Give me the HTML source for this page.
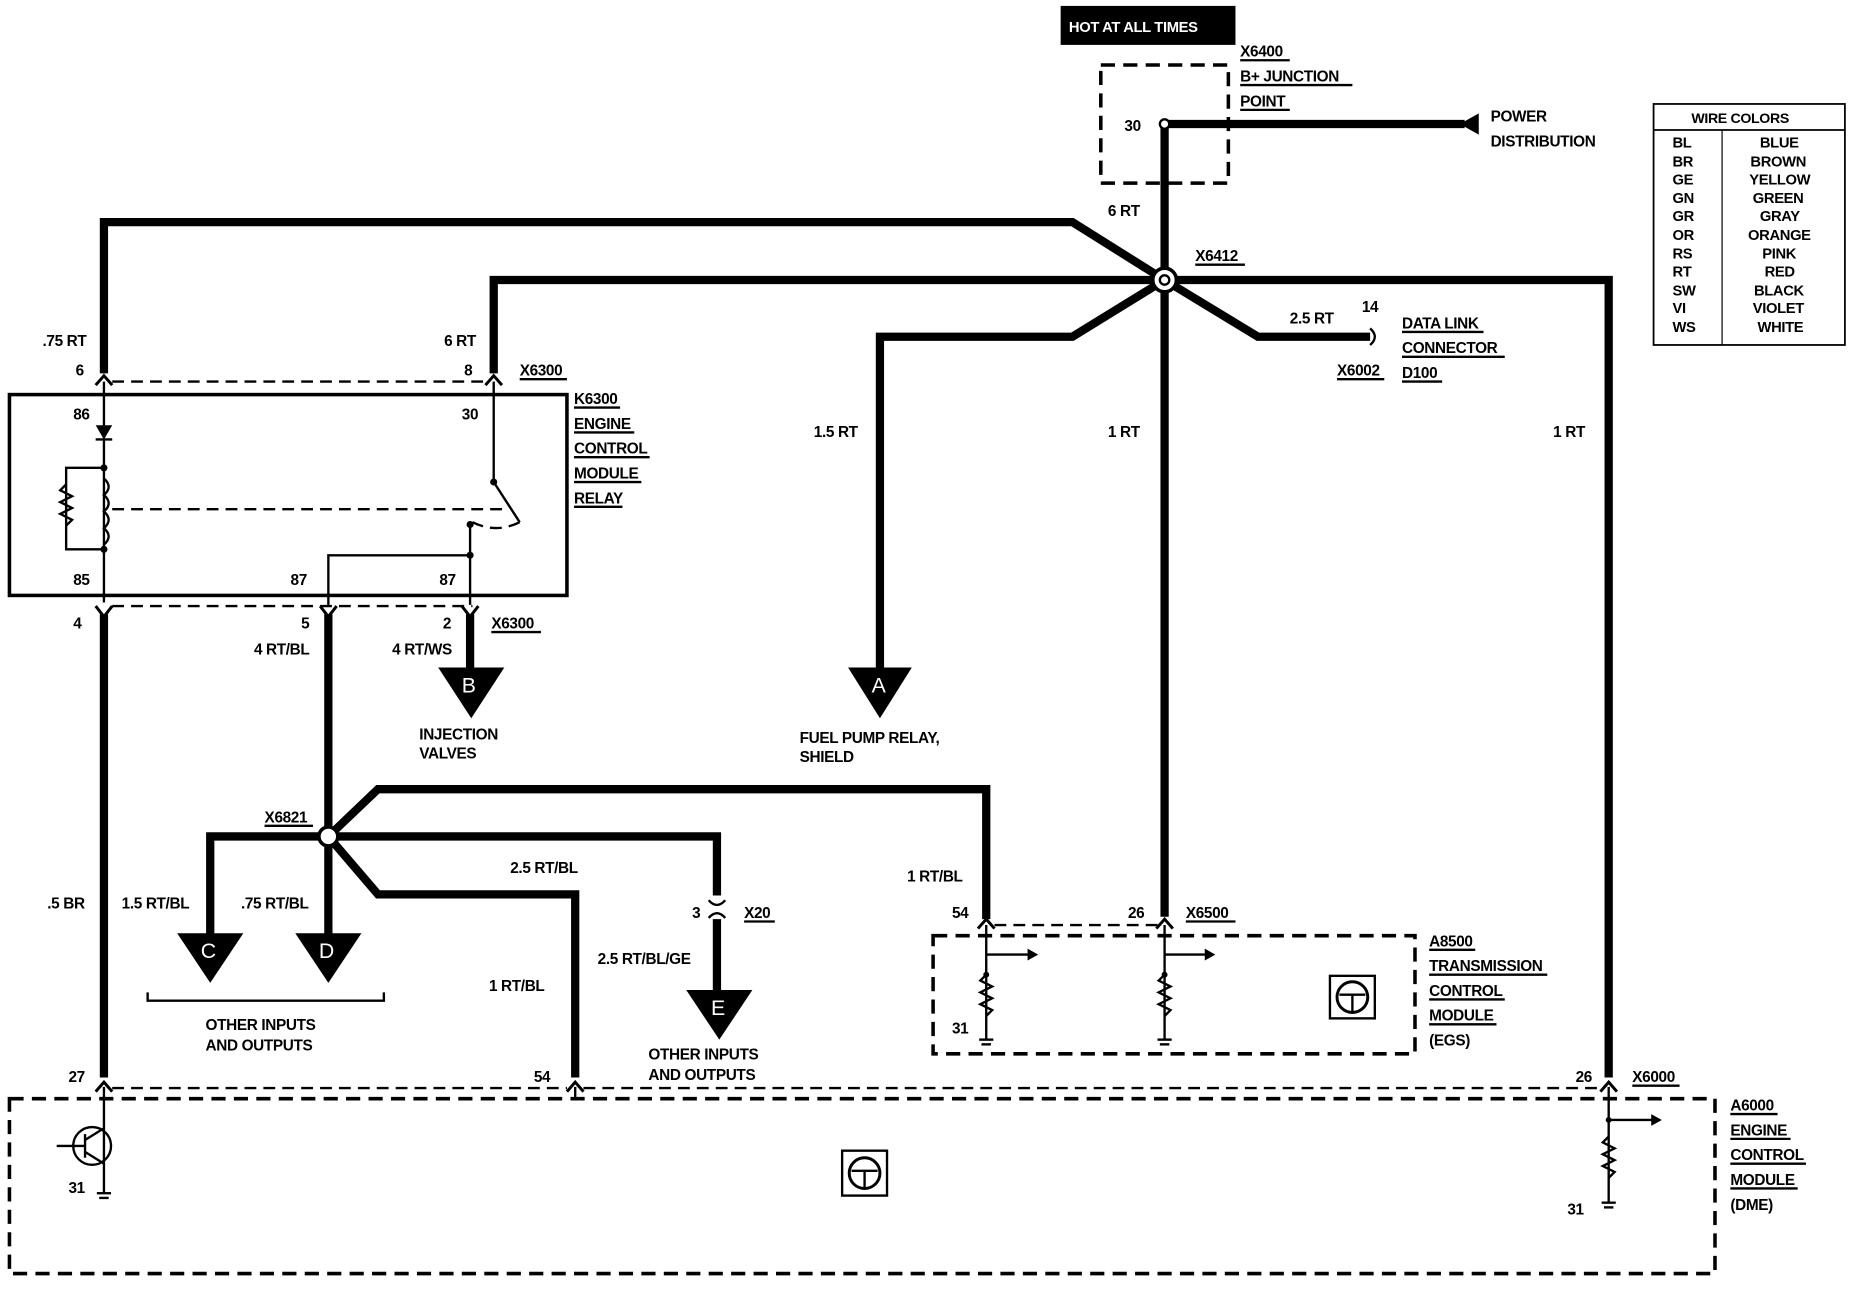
<!DOCTYPE html>
<html><head><meta charset="utf-8"><style>
html,body{margin:0;padding:0;background:#fff;}
svg{display:block;}
text{font-family:"Liberation Sans",Arial,sans-serif;font-size:13px;font-weight:bold;letter-spacing:-0.3px;fill:#000;}
.t{stroke:#000;stroke-width:7;fill:none;stroke-linejoin:miter;}
.d{stroke:#000;stroke-width:3;fill:none;stroke-dasharray:12,7;}
.dl{stroke:#000;stroke-width:2;fill:none;stroke-dasharray:10,6;}
.n{stroke:#000;stroke-width:2;fill:none;}
.f{stroke:#000;stroke-width:2.5;fill:none;}
</style></head><body>
<svg width="1852" height="1296" viewBox="0 0 1568 1097" preserveAspectRatio="none" xmlns="http://www.w3.org/2000/svg">
<rect x="0" y="0" width="1568" height="1097" fill="#fff"/>
<rect x="898" y="5" width="148" height="33" fill="#000"/>
<text x="905" y="27" style="fill:#fff;font-size:12.5px">HOT AT ALL TIMES</text>
<rect x="932" y="55" width="108" height="100" class="d"/>
<text x="952" y="111">30</text>
<text x="1050" y="48">X6400</text><line x1="1050" y1="51" x2="1092" y2="51" class="n" stroke-width="1"/>
<text x="1050" y="69">B+ JUNCTION</text><line x1="1050" y1="72" x2="1145" y2="72" class="n" stroke-width="1"/>
<text x="1050" y="90">POINT</text><line x1="1050" y1="93" x2="1092" y2="93" class="n" stroke-width="1"/>
<path class="t" d="M986 105 H1240"/>
<polygon points="1236,105 1252,96 1252,114" fill="#000"/>
<text x="1262" y="103">POWER</text><text x="1262" y="124">DISTRIBUTION</text>
<path class="t" d="M986 105 V776"/>
<circle cx="986" cy="105" r="4" fill="#fff" stroke="#000" stroke-width="2"/>
<text x="938" y="183">6 RT</text>
<text x="1012" y="221">X6412</text><line x1="1012" y1="224" x2="1054" y2="224" class="n" stroke-width="1"/>
<path class="t" d="M986 237 L908 188 H88 V316"/>
<path class="t" d="M986 237 H418 V316"/>
<path class="t" d="M986 237 H1362 V912"/>
<path class="t" d="M986 237 L908 285 H745 V570"/>
<path class="t" d="M986 237 L1065 285 H1160"/>
<path class="n" d="M1160 278 Q1168 285 1160 292" stroke-width="2"/>
<polygon points="718,565 772,565 745,608" fill="#000"/>
<text x="738" y="586" style="fill:#fff;font-size:18px;font-weight:normal">A</text>
<circle cx="986" cy="237" r="10" fill="#fff" stroke="#000" stroke-width="3"/>
<circle cx="986" cy="237" r="4" fill="#fff" stroke="#000" stroke-width="2"/>
<text x="1092" y="274">2.5 RT</text><text x="1153" y="264">14</text>
<text x="1132" y="318">X6002</text><line x1="1132" y1="321" x2="1172" y2="321" class="n" stroke-width="1"/>
<text x="1187" y="278">DATA LINK</text><line x1="1187" y1="281" x2="1256" y2="281" class="n" stroke-width="1"/>
<text x="1187" y="299">CONNECTOR</text><line x1="1187" y1="302" x2="1274" y2="302" class="n" stroke-width="1"/>
<text x="1187" y="320">D100</text><line x1="1187" y1="323" x2="1221" y2="323" class="n" stroke-width="1"/>
<text x="689" y="370">1.5 RT</text><text x="938" y="370">1 RT</text><text x="1315" y="370">1 RT</text>
<text x="677" y="629">FUEL PUMP RELAY,</text><text x="677" y="645">SHIELD</text>
<!-- K6300 -->
<text x="36" y="293">.75 RT</text><text x="376" y="293">6 RT</text>
<text x="64" y="318">6</text><text x="393" y="318">8</text>
<text x="440" y="318">X6300</text><line x1="440" y1="321" x2="480" y2="321" class="n" stroke-width="1"/>
<line x1="95" y1="323" x2="412" y2="323" class="dl"/>
<path class="f" d="M81 326 L88 318 L95 326"/><path class="f" d="M411 326 L418 318 L425 326"/>
<rect x="8" y="334" width="472" height="170" fill="none" stroke="#000" stroke-width="3"/>
<text x="486" y="342">K6300</text><line x1="486" y1="345" x2="525" y2="345" class="n" stroke-width="1"/>
<text x="486" y="363">ENGINE</text><line x1="486" y1="366" x2="537" y2="366" class="n" stroke-width="1"/>
<text x="486" y="384">CONTROL</text><line x1="486" y1="387" x2="550" y2="387" class="n" stroke-width="1"/>
<text x="486" y="405">MODULE</text><line x1="486" y1="408" x2="543" y2="408" class="n" stroke-width="1"/>
<text x="486" y="426">RELAY</text><line x1="486" y1="429" x2="527" y2="429" class="n" stroke-width="1"/>
<text x="62" y="355">86</text><text x="391" y="355">30</text>
<text x="62" y="495">85</text><text x="246" y="495">87</text><text x="372" y="495">87</text>
<path class="n" d="M88 323 V510"/>
<polygon points="81,360 95,360 88,372" fill="#000"/><line x1="81" y1="372" x2="95" y2="372" class="n"/>
<path class="n" d="M88 396 H56 V465 H88"/>
<path class="n" d="M56 410 l-5 5 l10 5 l-10 5 l10 5 l-10 5 l10 5 l-5 5"/>
<path class="n" d="M88 405 q8 7 0 14 q8 7 0 14 q8 7 0 14 q8 7 0 14"/>
<circle cx="88" cy="396" r="3" fill="#000"/><circle cx="88" cy="465" r="3" fill="#000"/>
<line x1="95" y1="431" x2="430" y2="431" class="dl"/>
<path class="n" d="M418 323 V408 L440 442"/>
<circle cx="418" cy="408" r="3" fill="#000"/>
<path class="dl" d="M440 442 Q420 452 400 442"/>
<circle cx="398" cy="444" r="3" fill="#000"/>
<path class="n" d="M398 444 V512"/>
<path class="n" d="M278 512 V470 H398"/>
<circle cx="398" cy="470" r="3" fill="#000"/>
<line x1="95" y1="513" x2="400" y2="513" class="dl"/>
<text x="62" y="532">4</text><text x="255" y="532">5</text><text x="375" y="532">2</text>
<text x="416" y="532">X6300</text><line x1="416" y1="535" x2="458" y2="535" class="n" stroke-width="1"/>
<path class="f" d="M81 513 L88 522 L95 513"/><path class="f" d="M271 513 L278 522 L285 513"/><path class="f" d="M391 513 L398 522 L405 513"/>
<path class="t" d="M88 520 V912"/>
<path class="t" d="M278 520 V795"/>
<path class="t" d="M398 520 V570"/>
<polygon points="371,565 427,565 399,608" fill="#000"/>
<text x="391" y="586" style="fill:#fff;font-size:18px;font-weight:normal">B</text>
<text x="215" y="554">4 RT/BL</text><text x="332" y="554">4 RT/WS</text>
<text x="355" y="626">INJECTION</text><text x="355" y="642">VALVES</text>
<!-- X6821 -->
<path class="t" d="M278 708 L320 668 H835 V778"/>
<path class="t" d="M278 708 H178 V795"/>
<path class="t" d="M278 708 H607 V758"/>
<path class="n" d="M600 762 Q607 770 614 762" stroke-width="2"/>
<path class="n" d="M600 777 Q607 769 614 777" stroke-width="2"/>
<path class="t" d="M607 778 V842"/>
<path class="t" d="M278 708 L320 757 H487 V912"/>
<circle cx="278" cy="708" r="8" fill="#fff" stroke="#000" stroke-width="3"/>
<polygon points="150,790 206,790 178,832" fill="#000"/><text x="170" y="811" style="fill:#fff;font-size:18px;font-weight:normal">C</text>
<polygon points="250,790 306,790 278,832" fill="#000"/><text x="270" y="811" style="fill:#fff;font-size:18px;font-weight:normal">D</text>
<polygon points="581,838 637,838 609,880" fill="#000"/><text x="602" y="859" style="fill:#fff;font-size:18px;font-weight:normal">E</text>
<text x="224" y="696">X6821</text><line x1="224" y1="699" x2="265" y2="699" class="n" stroke-width="1"/>
<text x="432" y="739">2.5 RT/BL</text>
<text x="40" y="769">.5 BR</text><text x="103" y="769">1.5 RT/BL</text><text x="204" y="769">.75 RT/BL</text>
<text x="768" y="746">1 RT/BL</text>
<text x="586" y="777">3</text><text x="630" y="777">X20</text><line x1="630" y1="780" x2="656" y2="780" class="n" stroke-width="1"/>
<text x="506" y="816">2.5 RT/BL/GE</text>
<text x="414" y="839">1 RT/BL</text>
<path class="n" d="M125 840 V847 H325 V840"/>
<text x="174" y="872">OTHER INPUTS</text><text x="174" y="889">AND OUTPUTS</text>
<text x="549" y="897">OTHER INPUTS</text><text x="549" y="914">AND OUTPUTS</text>
<!-- A8500 -->
<text x="806" y="777">54</text><text x="955" y="777">26</text>
<text x="1004" y="777">X6500</text><line x1="1004" y1="780" x2="1046" y2="780" class="n" stroke-width="1"/>
<line x1="842" y1="783" x2="980" y2="783" class="dl"/>
<path class="f" d="M828 786 L835 778 L842 786"/><path class="f" d="M979 786 L986 778 L993 786"/>
<rect x="790" y="792" width="408" height="100" class="d"/>
<path class="n" d="M835 783 V880"/><path class="n" d="M986 783 V880"/>
<path class="n" d="M835 808 H872"/><polygon points="870,803 879,808 870,813" fill="#000"/>
<path class="n" d="M986 808 H1022"/><polygon points="1020,803 1029,808 1020,813" fill="#000"/>
<path class="n" d="M835 825 l-5 5 l10 5 l-10 5 l10 5 l-10 5 l10 5 l-5 5"/>
<path class="n" d="M986 825 l-5 5 l10 5 l-10 5 l10 5 l-10 5 l10 5 l-5 5"/>
<line x1="829" y1="880" x2="841" y2="880" class="n"/><line x1="831" y1="884" x2="839" y2="884" class="n"/>
<line x1="980" y1="880" x2="992" y2="880" class="n"/><line x1="982" y1="884" x2="990" y2="884" class="n"/>
<circle cx="835" cy="825" r="2.5" fill="#000"/><circle cx="986" cy="825" r="2.5" fill="#000"/>
<text x="806" y="875">31</text>
<rect x="1126" y="826" width="38" height="36" fill="none" stroke="#000" stroke-width="2"/>
<circle cx="1145" cy="844" r="13" fill="none" stroke="#000" stroke-width="2.5"/>
<path class="n" d="M1134 842 H1156 M1145 842 V856" stroke-width="2.5"/>
<text x="1210" y="801">A8500</text><line x1="1210" y1="804" x2="1249" y2="804" class="n" stroke-width="1"/>
<text x="1210" y="822">TRANSMISSION</text><line x1="1210" y1="825" x2="1310" y2="825" class="n" stroke-width="1"/>
<text x="1210" y="843">CONTROL</text><line x1="1210" y1="846" x2="1274" y2="846" class="n" stroke-width="1"/>
<text x="1210" y="864">MODULE</text><line x1="1210" y1="867" x2="1267" y2="867" class="n" stroke-width="1"/>
<text x="1210" y="885">(EGS)</text>
<!-- A6000 -->
<text x="58" y="916">27</text><text x="452" y="916">54</text><text x="1334" y="916">26</text>
<text x="1382" y="916">X6000</text><line x1="1382" y1="919" x2="1422" y2="919" class="n" stroke-width="1"/>
<line x1="95" y1="921" x2="480" y2="921" class="dl"/>
<line x1="494" y1="921" x2="1355" y2="921" class="dl"/>
<path class="f" d="M81 924 L88 916 L95 924"/><path class="f" d="M480 924 L487 916 L494 924"/><path class="f" d="M1355 924 L1362 916 L1369 924"/>
<rect x="8" y="930" width="1444" height="148" class="d"/>
<path class="n" d="M88 920 V1010"/><path class="n" d="M487 920 V930"/>
<circle cx="78" cy="970" r="16" fill="none" stroke="#000" stroke-width="2"/>
<path class="n" d="M48 970 H72 M72 960 V980 M72 965 L88 955 M72 975 L88 985"/>
<line x1="82" y1="1010" x2="94" y2="1010" class="n"/><line x1="84" y1="1014" x2="92" y2="1014" class="n"/>
<text x="58" y="1010">31</text>
<rect x="713" y="974" width="38" height="38" fill="none" stroke="#000" stroke-width="2"/>
<circle cx="732" cy="993" r="13" fill="none" stroke="#000" stroke-width="2.5"/>
<path class="n" d="M721 991 H743 M732 991 V1005" stroke-width="2.5"/>
<path class="n" d="M1362 920 V1018"/>
<path class="n" d="M1362 948 H1400"/><polygon points="1398,943 1407,948 1398,953" fill="#000"/>
<path class="n" d="M1362 962 l-5 5 l10 5 l-10 5 l10 5 l-10 5 l10 5 l-5 5"/>
<circle cx="1362" cy="948" r="2.5" fill="#000"/>
<line x1="1356" y1="1018" x2="1368" y2="1018" class="n"/><line x1="1358" y1="1022" x2="1366" y2="1022" class="n"/>
<text x="1327" y="1028">31</text>
<text x="1465" y="940">A6000</text><line x1="1465" y1="943" x2="1505" y2="943" class="n" stroke-width="1"/>
<text x="1465" y="961">ENGINE</text><line x1="1465" y1="964" x2="1516" y2="964" class="n" stroke-width="1"/>
<text x="1465" y="982">CONTROL</text><line x1="1465" y1="985" x2="1529" y2="985" class="n" stroke-width="1"/>
<text x="1465" y="1003">MODULE</text><line x1="1465" y1="1006" x2="1522" y2="1006" class="n" stroke-width="1"/>
<text x="1465" y="1024">(DME)</text>
<rect x="1400" y="88" width="162" height="204" fill="none" stroke="#000" stroke-width="1.5"/>
<line x1="1400" y1="110" x2="1562" y2="110" stroke="#000" stroke-width="1.5"/>
<line x1="1458" y1="110" x2="1458" y2="292" stroke="#000" stroke-width="1"/>
<text x="1432" y="104" style="font-size:12px">WIRE COLORS</text>
<g style="font-size:12.5px">
<text x="1416" y="125" style="font-size:12.5px">BL</text><text x="1490" y="125" style="font-size:12.5px">BLUE</text>
<text x="1416" y="141" style="font-size:12.5px">BR</text><text x="1482" y="141" style="font-size:12.5px">BROWN</text>
<text x="1416" y="156" style="font-size:12.5px">GE</text><text x="1481" y="156" style="font-size:12.5px">YELLOW</text>
<text x="1416" y="172" style="font-size:12.5px">GN</text><text x="1484" y="172" style="font-size:12.5px">GREEN</text>
<text x="1416" y="187" style="font-size:12.5px">GR</text><text x="1490" y="187" style="font-size:12.5px">GRAY</text>
<text x="1416" y="203" style="font-size:12.5px">OR</text><text x="1480" y="203" style="font-size:12.5px">ORANGE</text>
<text x="1416" y="219" style="font-size:12.5px">RS</text><text x="1492" y="219" style="font-size:12.5px">PINK</text>
<text x="1416" y="234" style="font-size:12.5px">RT</text><text x="1494" y="234" style="font-size:12.5px">RED</text>
<text x="1416" y="250" style="font-size:12.5px">SW</text><text x="1485" y="250" style="font-size:12.5px">BLACK</text>
<text x="1416" y="265" style="font-size:12.5px">VI</text><text x="1484" y="265" style="font-size:12.5px">VIOLET</text>
<text x="1416" y="281" style="font-size:12.5px">WS</text><text x="1488" y="281" style="font-size:12.5px">WHITE</text>
</g>
</svg>
</body></html>
